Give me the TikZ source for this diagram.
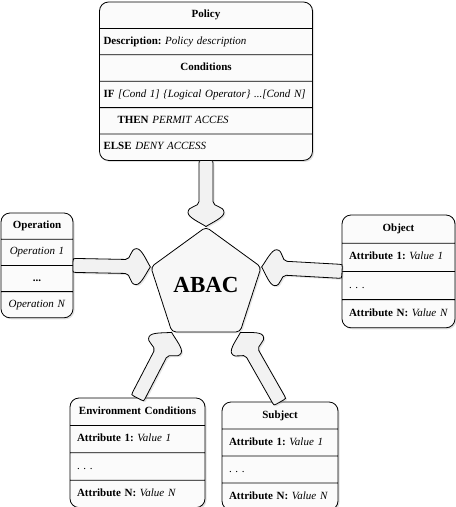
\documentclass[tikz,border=0pt]{standalone}
\usepackage{fontspec}
\setmainfont{Liberation Serif}
\usetikzlibrary{shapes.geometric,shapes.multipart,shadows}

\tikzset{
  attrbox/.style={draw, line width=0.8pt, rectangle split, rectangle split parts=4,
    rectangle split draw splits, rounded corners=9pt, fill=gray!3, anchor=north,
    inner xsep=7pt, outer sep=0pt,
    drop shadow={shadow xshift=1.5pt, shadow yshift=-1.5pt, opacity=0.25},
    font=\fontsize{11}{13.2}\selectfont\frenchspacing},
  fatbody/.style={draw, line width=0.8pt, fill=gray!10,
    drop shadow={shadow xshift=1.5pt, shadow yshift=-1.5pt, opacity=0.2}},
}

% centred row text
\newcommand{\midrow}[1]{\makebox[\linewidth]{\strut#1}}

% fat arrow from node anchor #1.#2 to node anchor #3.#4
\newcommand{\fatarrow}[4]{%
  \pgfmathanglebetweenpoints{\pgfpointanchor{#1}{#2}}{\pgfpointanchor{#3}{#4}}%
  \let\fatang\pgfmathresult
  \pgfpointdiff{\pgfpointanchor{#1}{#2}}{\pgfpointanchor{#3}{#4}}%
  \pgfgetlastxy{\fatdx}{\fatdy}%
  \pgfmathsetmacro\fatlen{veclen(\fatdx,\fatdy)}%
  \begin{scope}[shift={(#1.#2)}, rotate=\fatang]
    \draw[fatbody] (3,-7) .. controls (0,-7) .. (0,-4) -- (0,4) .. controls (0,7) .. (3,7)
      -- ({\fatlen-25},7) .. controls ({\fatlen-19},7) and ({\fatlen-21},18) .. ({\fatlen-14},18)
      .. controls ({\fatlen-9},18) and ({\fatlen-4},6) .. ({\fatlen},0)
      .. controls ({\fatlen-4},-6) and ({\fatlen-9},-18) .. ({\fatlen-14},-18)
      .. controls ({\fatlen-21},-18) and ({\fatlen-19},-7) .. ({\fatlen-25},-7) -- cycle;
  \end{scope}}

\begin{document}
\begin{tikzpicture}[x=1pt, y=-1pt]
  \useasboundingbox (0,0) rectangle (456,507);

  % Center
  \node[draw, line width=0.8pt, regular polygon, regular polygon sides=5, minimum size=116pt,
    inner sep=0pt, rounded corners=4pt, fill=gray!6,
    drop shadow={shadow xshift=1.5pt, shadow yshift=-1.5pt, opacity=0.2},
    font=\fontsize{23}{26}\selectfont\bfseries] (abac) at (206,285) {ABAC};

  % Boxes
  \node[attrbox, rectangle split parts=6, text width=205pt, inner xsep=4pt, inner ysep=6.2pt]
    (policy) at (206,2)
    {\midrow{\textbf{Policy}}
     \nodepart{two}\strut\textbf{Description:} \textit{Policy description}
     \nodepart{three}\midrow{\textbf{Conditions}}
     \nodepart{four}\strut\textbf{IF} \textit{[Cond 1] \{Logical Operator\} ...[Cond N]}
     \nodepart{five}\strut\hspace*{14pt}\textbf{THEN} \textit{PERMIT ACCES}
     \nodepart{six}\strut\textbf{ELSE} \textit{DENY ACCESS}};

  \node[attrbox, text width=58pt, inner ysep=6.1pt] (operation) at (37,213)
    {\midrow{\textbf{Operation}}
     \nodepart{two}\midrow{\textit{Operation 1}}
     \nodepart{three}\midrow{\textbf{...}}
     \nodepart{four}\midrow{\textit{Operation N}}};

  \node[attrbox, text width=99pt, inner ysep=7.1pt] (object) at (398.5,215)
    {\midrow{\textbf{Object}}
     \nodepart{two}\strut\textbf{Attribute 1:} \textit{Value 1}
     \nodepart{three}\strut. . .
     \nodepart{four}\strut\textbf{Attribute N:} \textit{Value N}};

  \node[attrbox, text width=121pt, inner ysep=6.7pt] (environment) at (137.5,398)
    {\midrow{\textbf{Environment Conditions}}
     \nodepart{two}\strut\textbf{Attribute 1:} \textit{Value 1}
     \nodepart{three}\strut. . .
     \nodepart{four}\strut\textbf{Attribute N:} \textit{Value N}};

  \node[attrbox, text width=102pt, inner ysep=6.5pt] (subject) at (280,402)
    {\midrow{\textbf{Subject}}
     \nodepart{two}\strut\textbf{Attribute 1:} \textit{Value 1}
     \nodepart{three}\strut. . .
     \nodepart{four}\strut\textbf{Attribute N:} \textit{Value N}};

  % Arrows
  \fatarrow{policy}{south}{abac}{corner 1}
  \fatarrow{operation}{east}{abac}{corner 2}
  \fatarrow{object}{west}{abac}{corner 5}
  \fatarrow{environment}{north}{abac}{corner 3}
  \fatarrow{subject}{north}{abac}{corner 4}
\end{tikzpicture}
\end{document}
